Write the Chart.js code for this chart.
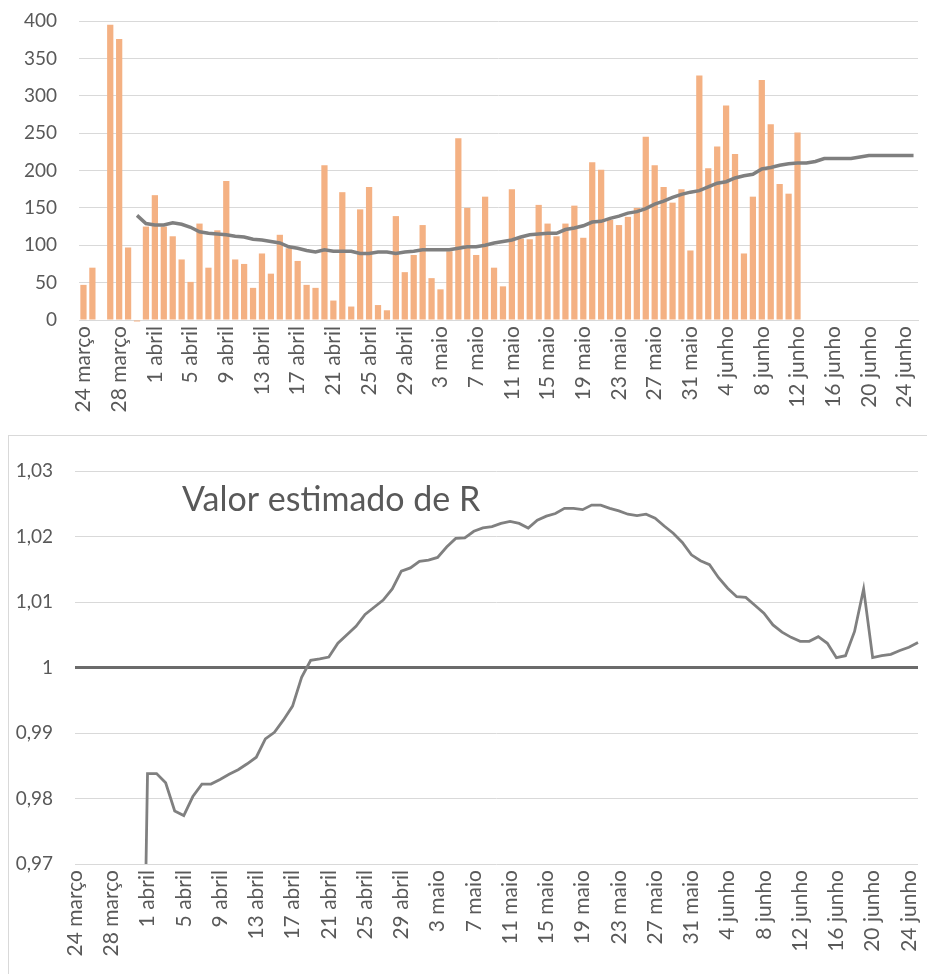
<!DOCTYPE html>
<html lang="pt">
<head>
  <meta charset="UTF-8" />
  <title>Casos diários e valor estimado de R</title>
  <script src="https://cdn.jsdelivr.net/npm/chart.js"></script>
  <style>
    body { margin: 0; background: #fff; font-family: Lato, sans-serif; }
    #topo { position: absolute; left: 0; top: 0; }
    #moldura {
      position: absolute; left: 8px; top: 435px; width: 919px; height: 539px;
      border-top: 1px solid #d9d9d9; border-left: 1px solid #d9d9d9;
    }
    #baixo { position: absolute; left: 0; top: 435px; }
  </style>
</head>
<body>
  <canvas id="topo" width="927" height="433"></canvas>
  <div id="moldura"></div>
  <canvas id="baixo" width="927" height="539"></canvas>

  <script>
    // dias: 24 março a 25 junho
    const meses = [['março', 24, 31], ['abril', 1, 30], ['maio', 1, 31], ['junho', 1, 25]];
    const dias = [];
    meses.forEach(([nome, ini, fim]) => {
      for (let d = ini; d <= fim; d++) dias.push(d + ' ' + nome);
    });

    // novos casos por dia
    const casos = [
      47, 70, null, 395, 376, 97, -2, 125, 167, 125,
      112, 81, 51, 129, 70, 120, 186, 81, 75, 43,
      89, 62, 114, 96, 79, 47, 43, 207, 26, 171,
      18, 148, 178, 20, 13, 139, 64, 87, 127, 56,
      41, 92, 243, 150, 87, 165, 70, 45, 175, 109,
      108, 154, 129, 112, 129, 153, 110, 211, 201, 134,
      127, 138, 150, 245, 207, 178, 157, 175, 93, 327,
      203, 232, 287, 222, 89, 165, 321, 262, 182, 169,
      251, null, null, null, null, null, null, null, null, null,
      null, null, null, null
    ];

    // média móvel
    const media = [
      null, null, null, null, null, null, 140, 129, 127, 127,
      130, 128, 124, 118, 116, 115, 114, 112, 111, 108,
      107, 105, 103, 98, 96, 93, 91, 94, 92, 92,
      92, 89, 89, 91, 91, 89, 91, 92, 94, 94,
      94, 94, 96, 98, 98, 100, 103, 105, 107, 111,
      114, 115, 116, 116, 121, 123, 126, 131, 132, 136,
      139, 143, 145, 149, 155, 159, 164, 168, 171, 173,
      178, 183, 185, 190, 193, 195, 202, 204, 207, 209,
      210, 210, 212, 216, 216, 216, 216, 218, 220, 220,
      220, 220, 220, 220
    ];

    // valor estimado de R
    const valorR = [
      null, null, null, null, null, null, null, 0.9, 0.9838, 0.9838,
      0.9824, 0.9781, 0.9774, 0.9803, 0.9822, 0.9822, 0.9829, 0.9837, 0.9844, 0.9853,
      0.9863, 0.9891, 0.9901, 0.9920, 0.9941, 0.9985, 1.0011, 1.0013, 1.0016, 1.0037,
      1.0050, 1.0063, 1.0081, 1.0092, 1.0103, 1.0120, 1.0147, 1.0152, 1.0162, 1.0164,
      1.0168, 1.0184, 1.0197, 1.0198, 1.0208, 1.0213, 1.0215, 1.0220, 1.0223, 1.0220,
      1.0213, 1.0225, 1.0231, 1.0235, 1.0243, 1.0243, 1.0241, 1.0248, 1.0248, 1.0243,
      1.0239, 1.0234, 1.0232, 1.0234, 1.0228, 1.0216, 1.0205, 1.0191, 1.0172, 1.0163,
      1.0157, 1.0137, 1.0121, 1.0108, 1.0107, 1.0095, 1.0083, 1.0065, 1.0054, 1.0046,
      1.0040, 1.0040, 1.0047, 1.0037, 1.0015, 1.0018, 1.0055, 1.0120, 1.0015, 1.0018,
      1.0020, 1.0026, 1.0031, 1.0038
    ];
    const limiarR = 1;

    const cinza = '#595959';
    const fonteY = { family: 'Lato', size: 19 };
    const fonteX = { family: 'Lato', size: 21 };

    function eixoX(altura, linha) {
      return {
        grid: { display: false, drawTicks: false },
        border: linha ? { color: '#d9d9d9', width: 1 } : { display: false },
        ticks: {
          autoSkip: false, minRotation: 90, maxRotation: 90, padding: 6,
          color: cinza, font: fonteX,
          callback: function (v, i) { return i % 4 === 0 ? dias[i] : ''; }
        },
        afterFit: s => { s.height = altura; s.paddingLeft = 0; s.paddingRight = 0; }
      };
    }

    function eixoY(largura) {
      return s => { s.width = largura; s.paddingTop = 0; s.paddingBottom = 0; };
    }

    new Chart(document.getElementById('topo'), {
      data: {
        labels: dias,
        datasets: [
          { type: 'line', data: media, borderColor: '#7f7f7f', borderWidth: 3.5,
            pointRadius: 0, tension: 0, order: 0 },
          { type: 'bar', data: casos, backgroundColor: '#f4b183',
            barPercentage: 0.7, categoryPercentage: 1, clip: false, order: 1 }
        ]
      },
      options: {
        responsive: false, animation: false, devicePixelRatio: 1,
        layout: { padding: { left: 0, right: 9, top: 21, bottom: 0 } },
        plugins: { legend: { display: false }, tooltip: { enabled: false } },
        scales: {
          x: eixoX(113, true),
          y: {
            min: 0, max: 400,
            grid: { color: '#d9d9d9', drawTicks: false },
            border: { display: false },
            ticks: { stepSize: 50, padding: 22, color: cinza, font: fonteY },
            afterFit: eixoY(79)
          }
        }
      }
    });

    const tituloR = {
      id: 'tituloR',
      afterDraw(chart) {
        const ctx = chart.ctx;
        ctx.save();
        ctx.font = '34px Lato';
        ctx.fillStyle = cinza;
        ctx.textBaseline = 'alphabetic';
        ctx.fillText('Valor estimado de R', 182, 76);
        ctx.restore();
      }
    };

    new Chart(document.getElementById('baixo'), {
      type: 'line',
      data: {
        labels: dias,
        datasets: [
          { data: dias.map(() => limiarR), borderColor: '#6b6b6b', borderWidth: 3.2,
            pointRadius: 0, tension: 0, order: 1 },
          { data: valorR, borderColor: '#808080', borderWidth: 2.8,
            pointRadius: 0, tension: 0, order: 0 }
        ]
      },
      options: {
        responsive: false, animation: false, devicePixelRatio: 1,
        layout: { padding: { left: 0, right: 9, top: 36, bottom: 0 } },
        plugins: { legend: { display: false }, tooltip: { enabled: false } },
        scales: {
          x: eixoX(110, false),
          y: {
            min: 0.97, max: 1.03,
            grid: { color: '#d9d9d9', drawTicks: false },
            border: { display: false },
            ticks: {
              stepSize: 0.01, padding: 22, color: cinza, font: fonteY,
              callback: v => v.toLocaleString('pt-PT', { maximumFractionDigits: 2 })
            },
            afterFit: eixoY(75)
          }
        }
      },
      plugins: [tituloR]
    });
  </script>
</body>
</html>
